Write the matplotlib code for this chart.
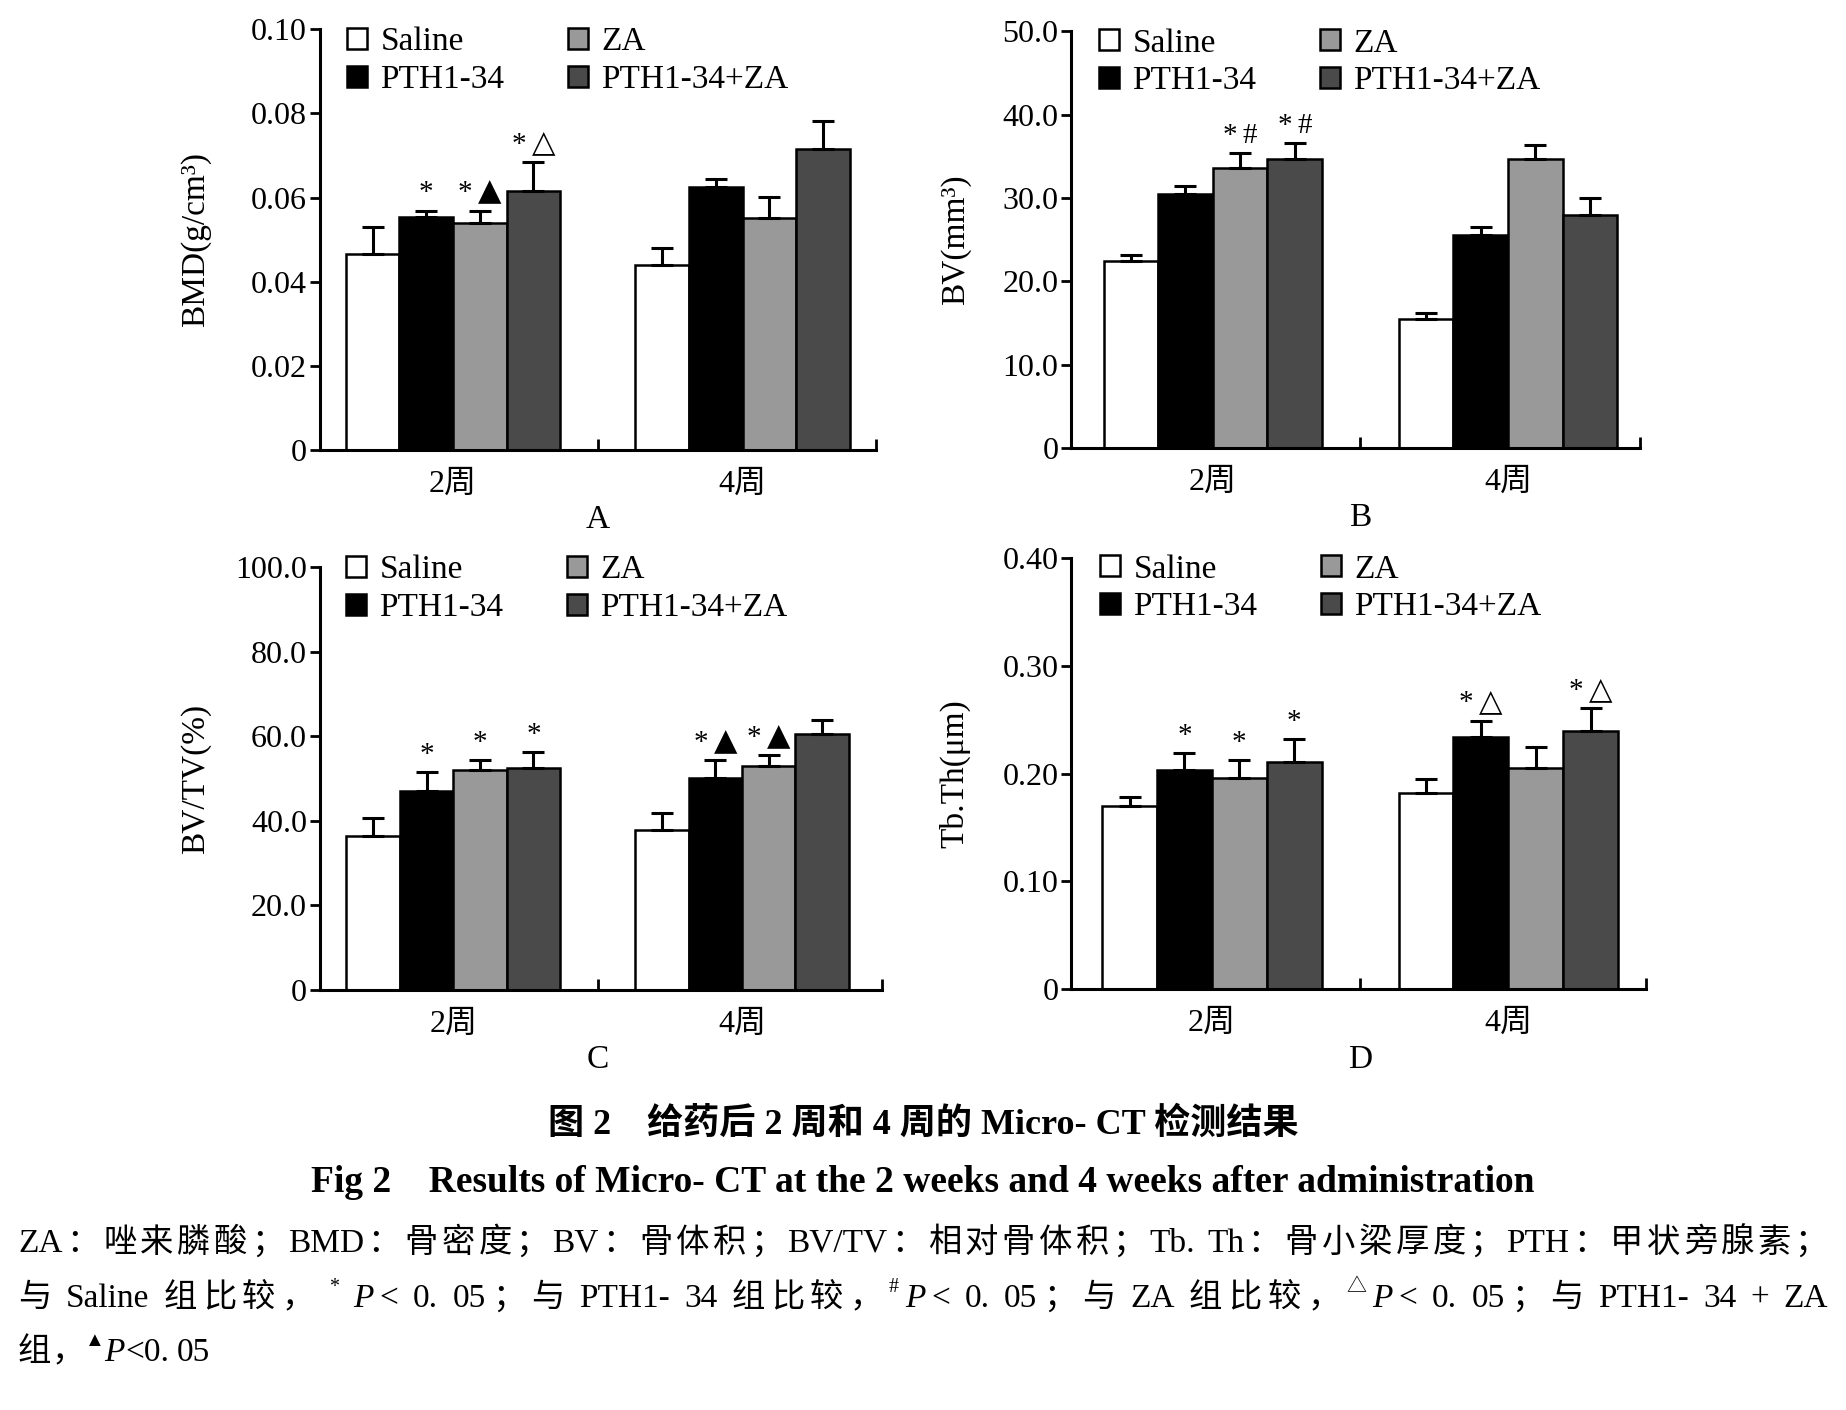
import matplotlib
matplotlib.use('Agg')
import matplotlib.pyplot as plt
import numpy as np
from matplotlib.offsetbox import TextArea, HPacker, AnnotationBbox
from matplotlib.font_manager import FontProperties

FAMILY = ['Liberation Serif', 'Noto Sans CJK SC', 'DejaVu Sans']
plt.rcParams['font.family'] = FAMILY
plt.rcParams['axes.unicode_minus'] = False

# ---------------- data ----------------
groups = ['Saline', 'PTH1-34', 'ZA', 'PTH1-34+ZA']
timepoints = ['2周', '4周']
colors = ['#ffffff', '#000000', '#999999', '#4a4a4a']

# rows: groups (Saline, PTH1-34, ZA, PTH1-34+ZA); columns: 2周, 4周
bmd_mean = [[0.0467, 0.0439], [0.0553, 0.0624], [0.0539, 0.0551], [0.0616, 0.0716]]
bmd_err = [[0.0062, 0.0041], [0.0016, 0.0020], [0.0030, 0.0050], [0.0069, 0.0067]]
bv_mean = [[22.4, 15.5], [30.5, 25.6], [33.6, 34.65], [34.65, 27.97]]
bv_err = [[0.75, 0.70], [0.95, 0.95], [1.75, 1.65], [1.95, 2.00]]
bvtv_mean = [[36.4, 37.8], [47.1, 50.0], [52.0, 53.0], [52.4, 60.4]]
bvtv_err = [[4.3, 4.1], [4.4, 4.3], [2.3, 2.5], [3.8, 3.4]]
tbth_mean = [[0.1695, 0.1817], [0.2029, 0.2337], [0.1955, 0.2048], [0.2109, 0.2395]]
tbth_err = [[0.0085, 0.0135], [0.0164, 0.0154], [0.0173, 0.0199], [0.0212, 0.0212]]

# significance marks: (group index, timepoint index, asterisk, symbol)
bmd_marks = [(1, 0, '*', ''), (2, 0, '*', '▲'), (3, 0, '*', '△')]
bv_marks = [(2, 0, '*', '#'), (3, 0, '*', '#')]
bvtv_marks = [(1, 0, '*', ''), (2, 0, '*', ''), (3, 0, '*', ''), (1, 1, '*', '▲'), (2, 1, '*', '▲')]
tbth_marks = [(1, 0, '*', ''), (2, 0, '*', ''), (3, 0, '*', ''), (1, 1, '*', '△'), (3, 1, '*', '△')]

bmd_ticks = [0, 0.02, 0.04, 0.06, 0.08, 0.10]
bmd_ticklabels = ['0', '0.02', '0.04', '0.06', '0.08', '0.10']
bv_ticks = [0, 10, 20, 30, 40, 50]
bv_ticklabels = ['0', '10.0', '20.0', '30.0', '40.0', '50.0']
bvtv_ticks = [0, 20, 40, 60, 80, 100]
bvtv_ticklabels = ['0', '20.0', '40.0', '60.0', '80.0', '100.0']
tbth_ticks = [0, 0.10, 0.20, 0.30, 0.40]
tbth_ticklabels = ['0', '0.10', '0.20', '0.30', '0.40']

title_cn = '图 2    给药后 2 周和 4 周的 Micro- CT 检测结果'
title_en = 'Fig 2    Results of Micro- CT at the 2 weeks and 4 weeks after administration'
note_line1 = [('ZA：唑来膦酸；BMD：骨密度；BV：骨体积；BV/TV：相对骨体积；Tb. Th：骨小梁厚度；PTH：甲状旁腺素；', 'n')]
note_line2 = [('与 Saline 组比较，', 'n'), (' ', 'n'), ('*', 'sup'), (' ', 'n'), ('P', 'it'),
              ('< 0. 05；与 PTH1- 34 组比较，', 'n'), ('#', 'sup'), ('P', 'it'),
              ('< 0. 05；与 ZA 组比较，', 'n'), ('△', 'sup'), ('P', 'it'),
              ('< 0. 05；与 PTH1- 34 + ZA', 'n')]
note_line3 = [('组，', 'n'), ('▲', 'sup'), ('P', 'it'), ('<0. 05', 'n')]

# ---------------- figure ----------------
W, H = 1846, 1410
fig = plt.figure(figsize=(W / 100, H / 100), dpi=100)

panels = [
    dict(rect=[0.1731, 0.6809, 0.3013, 0.2983], xlim=(-0.461, 1.46), mean=bmd_mean, err=bmd_err,
         marks=bmd_marks, ticks=bmd_ticks, labels=bmd_ticklabels, ylabel='BMD(g/cm³)',
         ylab_off=124, leg=(347, 40), letter='A'),
    dict(rect=[0.5802, 0.6821, 0.3082, 0.2958], xlim=(-0.48, 1.447), mean=bv_mean, err=bv_err,
         marks=bv_marks, ticks=bv_ticks, labels=bv_ticklabels, ylabel='BV(mm³)',
         ylab_off=115, leg=(1099, 41), letter='B'),
    dict(rect=[0.1731, 0.2979, 0.3046, 0.3000], xlim=(-0.463, 1.484), mean=bvtv_mean, err=bvtv_err,
         marks=bvtv_marks, ticks=bvtv_ticks, labels=bvtv_ticklabels, ylabel='BV/TV(%)',
         ylab_off=124, leg=(346, 568), letter='C'),
    dict(rect=[0.5802, 0.2984, 0.3115, 0.3059], xlim=(-0.475, 1.465), mean=tbth_mean, err=tbth_err,
         marks=tbth_marks, ticks=tbth_ticks, labels=tbth_ticklabels, ylabel='Tb.Th(μm)',
         ylab_off=116, leg=(1100, 567), letter='D'),
]

bw = 0.185
x_t = np.arange(len(timepoints))

for p in panels:
    ax = fig.add_axes(p['rect'])
    mean = np.array(p['mean'])
    err = np.array(p['err'])
    handles = []
    for gi, g in enumerate(groups):
        xs = x_t + (gi - 1.5) * bw
        b = ax.bar(xs, mean[gi], bw, color=colors[gi], edgecolor='black', linewidth=1.8,
                   yerr=[np.zeros_like(err[gi]), err[gi]],
                   error_kw=dict(ecolor='black', elinewidth=2.2, capsize=8, capthick=2.2),
                   label=g, zorder=2)
        handles.append(b)
    ax.set_xlim(*p['xlim'])
    ax.set_ylim(0, p['ticks'][-1])
    ax.set_yticks(p['ticks'])
    ax.set_yticklabels(p['labels'])
    ax.set_xticks(x_t)
    ax.set_xticklabels(timepoints)
    ax.set_xticks([0.5, p['xlim'][1]], minor=True)
    ax.tick_params(axis='x', which='major', length=0, pad=14, labelsize=23)
    ax.tick_params(axis='x', which='minor', direction='in', length=8, width=2)
    ax.tick_params(axis='y', direction='out', length=7, width=2, pad=2, labelsize=23)
    for s in ['top', 'right']:
        ax.spines[s].set_visible(False)
    for s in ['left', 'bottom']:
        ax.spines[s].set_linewidth(2.2)

    # y label
    x0 = p['rect'][0] * W - p['ylab_off']
    yc = (p['rect'][1] + p['rect'][3] / 2)
    fig.text(x0 / W, yc, p['ylabel'], rotation=90, ha='center', va='center', fontsize=24)

    # panel letter
    ax.annotate(p['letter'], xy=(0.5, 0), xycoords=('data', 'axes fraction'),
                xytext=(0, -70 * 0.72), textcoords='offset points', ha='center', va='center',
                fontsize=24)

    # significance marks
    for gi, ti, ast, sym in p['marks']:
        xs = ti + (gi - 1.5) * bw
        top = mean[gi, ti] + err[gi, ti]
        kids = [TextArea(ast, textprops=dict(fontsize=21))]
        if sym == '#':
            kids.append(TextArea(sym, textprops=dict(fontsize=21)))
        elif sym:
            kids.append(TextArea(sym, textprops=dict(fontsize=22, family=['DejaVu Sans'])))
        box = HPacker(children=kids, align='baseline', pad=0, sep=4)
        ab = AnnotationBbox(box, (xs, top), xybox=(0, 3), boxcoords='offset points',
                            box_alignment=(0.5, 0), frameon=False, pad=0)
        ax.add_artist(ab)

    # legend
    lx, ly = p['leg']
    ax.legend(handles, groups, ncol=2, loc='upper left',
              bbox_to_anchor=(lx / W, 1 - (ly - 13) / H), bbox_transform=fig.transFigure,
              frameon=False, fontsize=24, handlelength=0.6, handleheight=0.6,
              handletextpad=0.4, columnspacing=1.9, labelspacing=0.22,
              borderpad=0, borderaxespad=0)

# ---------------- captions ----------------
fig.text(0.5, 1 - 1125 / H, title_cn, ha='center', va='center', fontsize=26, fontweight='bold')
fig.text(0.5, 1 - 1182 / H, title_en, ha='center', va='center', fontsize=27, fontweight='bold')

renderer = fig.canvas.get_renderer()


def is_wide(c):
    return ord(c) > 0x2E80


def tokenize(segs):
    toks = []
    for txt, style in segs:
        if style != 'n':
            toks.append((txt, style))
            continue
        buf = ''
        for c in txt:
            if is_wide(c) or c == ' ':
                if buf:
                    toks.append((buf, 'n'))
                    buf = ''
                toks.append((c, 'sp' if c == ' ' else 'n'))
            else:
                buf += c
        if buf:
            toks.append((buf, 'n'))
    return toks


def props(style, size):
    if style == 'sup':
        return FontProperties(family=FAMILY, size=size * 0.6)
    if style == 'it':
        return FontProperties(family=FAMILY, size=size, style='italic')
    return FontProperties(family=FAMILY, size=size)


def advance(txt, prop):
    w1 = renderer.get_text_width_height_descent(txt + '|', prop, False)[0]
    w2 = renderer.get_text_width_height_descent('|', prop, False)[0]
    return w1 - w2


def draw_line(x_px, base_px, segs, size=24, target=None):
    toks = tokenize(segs)
    widths = []
    for txt, style in toks:
        if style == 'sp':
            widths.append(size * 0.25 / 0.72)
        else:
            widths.append(advance(txt, props(style, size)))
    n_real = sum(1 for t in toks if t[1] != 'sp')
    extra = 0.0
    if target is not None and n_real > 1:
        extra = (target - sum(widths)) / (n_real - 1)
    x = x_px
    for (txt, style), w in zip(toks, widths):
        if style != 'sp':
            dy = size * 0.45 / 0.72 if style == 'sup' else 0
            fig.text(x / W, 1 - (base_px - dy) / H, txt, ha='left', va='baseline',
                     fontproperties=props(style, size))
            x += w + extra
        else:
            x += w


draw_line(18, 1252, note_line1, target=1810)
draw_line(18, 1307, note_line2, target=1810)
draw_line(18, 1361, note_line3)

fig.savefig('out.png', dpi=100)
